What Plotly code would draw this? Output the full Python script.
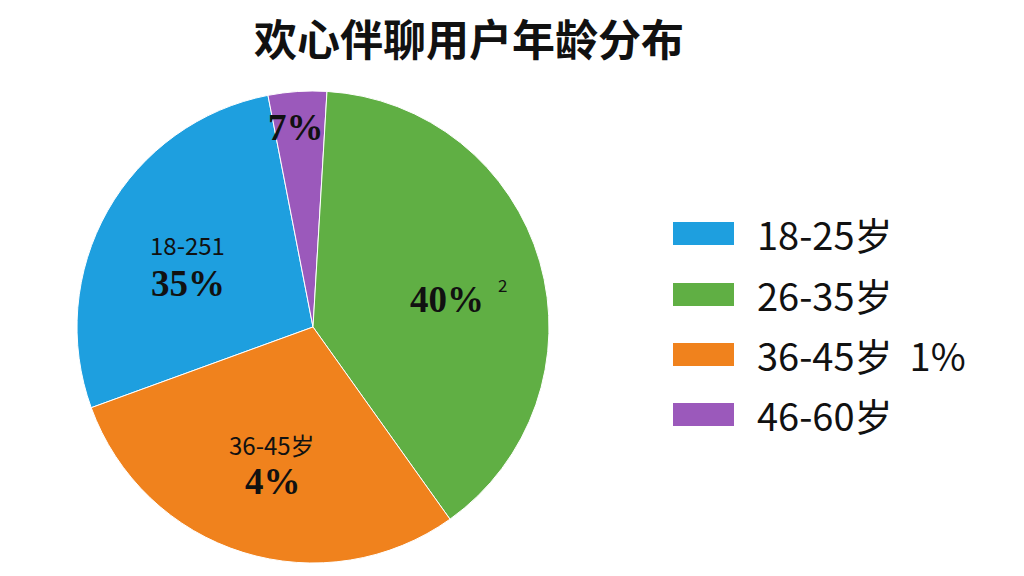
import plotly.graph_objects as go

# ---- data ----
categories = ["18-25岁", "26-35岁", "36-45岁", "46-60岁"]
values = [27.5, 39.2, 29.3, 4.0]          # slice sizes
colors = ["#1E9FDF", "#60AF44", "#F0821D", "#9B59BB"]
legend_labels = ["18-25岁", "26-35岁", "36-45岁  1%", "46-60岁"]
slice_small_labels = ["18-251", "", "36-45岁", ""]
slice_pct_labels = ["35%", "40%", "4%", "7%"]
title_text = "欢心伴聊用户年龄分布"

# clockwise drawing order of the slices (from the 18-25 slice)
pie_order = [0, 3, 1, 2]

W, H = 1024, 576
OX, OY = 8, 8   # page body margin offset
CJK = "Noto Sans CJK SC"
SERIF = "Liberation Serif"


def px(x):
    return (x - OX) / W


def py(y):
    return 1 - (y - OY) / H


cx, cy0, r = 313, 327, 236
fig = go.Figure()
fig.add_trace(go.Pie(
    labels=[categories[i] for i in pie_order],
    values=[values[i] for i in pie_order],
    sort=False,
    direction="clockwise",
    rotation=250,
    marker=dict(colors=[colors[i] for i in pie_order], line=dict(color="white", width=1)),
    textinfo="none",
    hoverinfo="label+percent",
    showlegend=False,
    domain=dict(x=[px(cx - r), px(cx + r)],
                y=[py(cy0 + r), py(cy0 - r)]),
))

ann = []
# title
ann.append(dict(text="<b>" + title_text + "</b>", x=px(469), y=py(37),
                xref="paper", yref="paper", showarrow=False,
                font=dict(family=CJK, size=43, color="#111111"),
                xanchor="center", yanchor="middle"))

# slice labels (placed like the reference)
small_pos = [(187, 244), None, (272, 444), None]
pct_pos = [(188, 283), (447, 299), (273, 481), (296, 127)]
for i in range(len(categories)):
    if slice_small_labels[i] and small_pos[i]:
        x, y = small_pos[i]
        ann.append(dict(text=slice_small_labels[i], x=px(x), y=py(y),
                        xref="paper", yref="paper", showarrow=False,
                        font=dict(family=CJK, size=24, color="#111111"),
                        xanchor="center", yanchor="middle"))
    x, y = pct_pos[i]
    ann.append(dict(text="<b>" + slice_pct_labels[i] + "</b>", x=px(x), y=py(y),
                    xref="paper", yref="paper", showarrow=False,
                    font=dict(family=SERIF, size=37, color="#111111"),
                    xanchor="center", yanchor="middle"))
# stray superscript
ann.append(dict(text="2", x=px(502), y=py(284), xref="paper", yref="paper",
                showarrow=False, font=dict(family=CJK, size=17, color="#111111"),
                xanchor="center", yanchor="middle"))

# manual legend
shapes = []
row_y = [233.5, 294.5, 354.5, 414.5]
for i, lab in enumerate(legend_labels):
    ry = row_y[i]
    shapes.append(dict(type="rect", xref="paper", yref="paper",
                       x0=px(673), x1=px(734), y0=py(ry + 11.5), y1=py(ry - 11.5),
                       fillcolor=colors[i], line=dict(width=0)))
    ann.append(dict(text=lab, x=px(755), y=py(ry), xref="paper", yref="paper",
                    showarrow=False, font=dict(family=CJK, size=38, color="#111111"),
                    xanchor="left", yanchor="middle"))

fig.update_layout(
    width=W, height=H,
    margin=dict(l=0, r=0, t=0, b=0),
    paper_bgcolor="white", plot_bgcolor="white",
    annotations=ann, shapes=shapes,
)
fig.write_html("out.html")
